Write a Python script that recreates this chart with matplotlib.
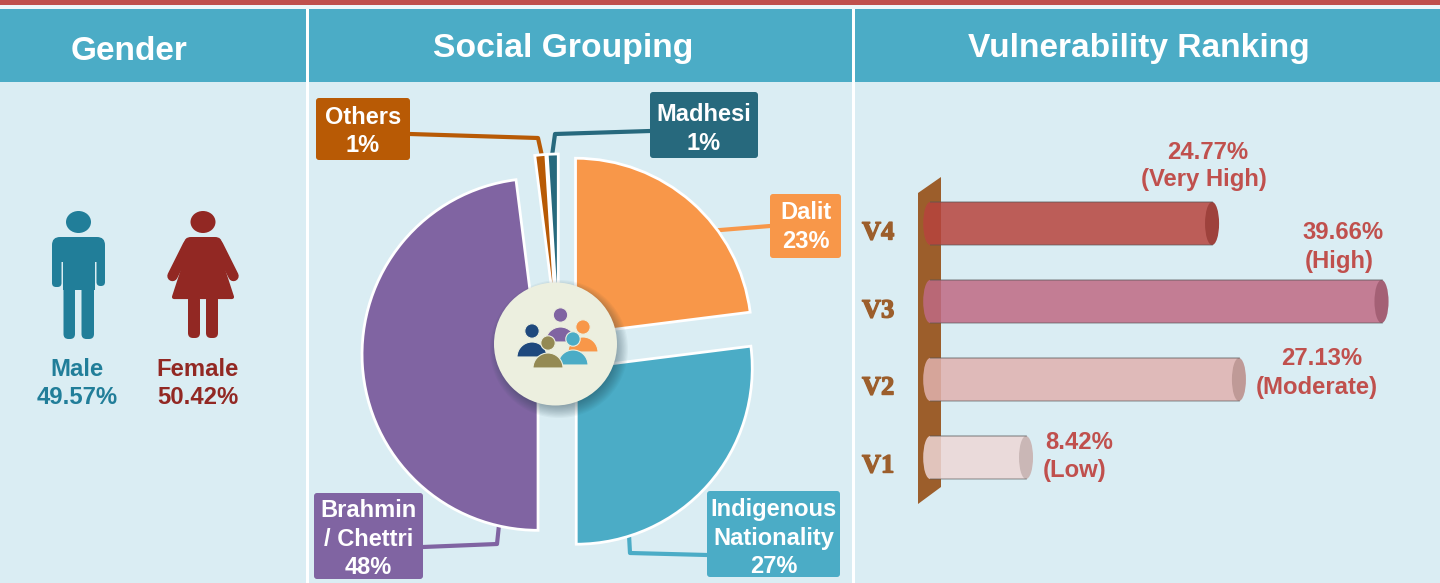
import matplotlib
matplotlib.use("Agg")
import matplotlib.pyplot as plt
import matplotlib.patheffects as pe
from matplotlib.patches import Rectangle, Circle, Wedge, Ellipse, Polygon, FancyBboxPatch

plt.rcParams['font.family'] = ['Liberation Sans', 'DejaVu Sans']

# data
gender_labels = ["Male", "Female"]
gender_values = [49.57, 50.42]
social_labels = ["Dalit", "Indigenous\nNationality", "Brahmin\n/ Chettri", "Others", "Madhesi"]
social_values = [23, 27, 48, 1, 1]
social_colors = ["#F89749", "#4BACC6", "#8064A2", "#B85A05", "#27697D"]
social_explode = [25, 23, 21, 23, 23]
vuln_labels = ["V1", "V2", "V3", "V4"]
vuln_values = [8.42, 27.13, 39.66, 24.77]
vuln_names = ["Low", "Moderate", "High", "Very High"]
vuln_colors = ["#EED7D6", "#E1B2AF", "#BF6A84", "#B7443D"]

BG = "#DAEDF3"
HEAD = "#4BACC6"
RED = "#C0504D"
BROWN = "#9C5E2B"
BLUE = "#217E99"
DARKRED = "#922823"

fig = plt.figure(figsize=(14.4, 5.83), dpi=100, facecolor=BG)

# axes in picture pixels, y goes down
ax = fig.add_axes([0, 0, 1, 1])
ax.set_xlim(0, 1440)
ax.set_ylim(583, 0)
ax.axis('off')

ax.add_patch(Rectangle((0, 0), 1440, 4.5, color=RED, lw=0))
ax.add_patch(Rectangle((0, 4.5), 1440, 4.5, color="#EEF7FA", lw=0))
ax.add_patch(Rectangle((0, 9), 1440, 73, color=HEAD, lw=0))
for x in [306, 852]:
    ax.add_patch(Rectangle((x, 9), 3, 574, color="white", lw=0, zorder=2))

ax.text(129, 51.5, "Gender", color="white", fontsize=24, fontweight="bold", ha="center", va="center")
ax.text(563.5, 49, "Social Grouping", color="white", fontsize=24.2, fontweight="bold", ha="center", va="center")
ax.text(1138.5, 49, "Vulnerability Ranking", color="white", fontsize=24.1, fontweight="bold", ha="center", va="center")


def rbox(x0, y0, x1, y1, color, r=3):
    ax.add_patch(FancyBboxPatch((x0, y0), x1 - x0, y1 - y0, boxstyle="round,pad=0,rounding_size=%s" % r,
                                fc=color, ec="none", zorder=4))


def stick(xs, ys, color, lw):
    ax.plot(xs, ys, color=color, lw=lw, solid_capstyle="round", solid_joinstyle="round")


# male figure
ax.add_patch(Ellipse((78.5, 222), 25, 22, color=BLUE, lw=0))
rbox(52, 237, 105, 262, BLUE, 8)
ax.add_patch(Rectangle((63, 245), 32, 45, color=BLUE, lw=0, zorder=4))
rbox(52, 250, 61.5, 287, BLUE, 4)
rbox(96.5, 250, 105, 286, BLUE, 4)
rbox(63.5, 280, 75, 339, BLUE, 5)
rbox(81.5, 280, 94, 339, BLUE, 5)

# female figure
ax.add_patch(Ellipse((203, 222), 25, 22, color=DARKRED, lw=0))
ax.add_patch(Polygon([(192, 242), (214, 242), (232, 297), (174, 297)], closed=True, fc=DARKRED, ec=DARKRED,
                     lw=3, joinstyle="round", zorder=4))
stick([188, 172.5], [245, 276], DARKRED, 7.5)
stick([218, 233.5], [245, 276], DARKRED, 7.5)
rbox(188, 295, 200, 338, DARKRED, 5)
rbox(206, 295, 218, 338, DARKRED, 5)
rbox(184, 237, 222, 252, DARKRED, 7)

gender_x = [77, 197.5]
gender_colors = [BLUE, DARKRED]
for i in range(2):
    ax.text(gender_x[i], 369.5, gender_labels[i], color=gender_colors[i], fontsize=17.2, fontweight="bold",
            ha="center", va="center")
    ax.text(gender_x[i], 398, "%.2f%%" % gender_values[i], color=gender_colors[i], fontsize=17.2,
            fontweight="bold", ha="center", va="center")

# callout lines go under the pie
stick([410, 538, 542], [134, 138, 156], social_colors[3], 3)
stick([650, 555, 552], [131, 134, 156], social_colors[4], 3)
stick([770, 708], [226, 231], social_colors[0], 3)
stick([707, 630, 629], [555, 553, 535], social_colors[1], 3)
stick([423, 497, 499], [547, 544, 525], social_colors[2], 3)

# pie, y goes up here
ax_pie = fig.add_axes([0, 0, 1, 1])
ax_pie.patch.set_alpha(0)
ax_pie.pie(social_values, explode=social_explode, colors=social_colors, startangle=90, counterclock=False,
           radius=176, center=(559, 583 - 353), wedgeprops=dict(edgecolor="white", linewidth=2))
ax_pie.set_xlim(0, 1440)
ax_pie.set_ylim(0, 583)
ax_pie.set_aspect('auto')
ax_pie.axis('off')

# top layer for centre circle and boxes
top = fig.add_axes([0, 0, 1, 1])
top.patch.set_alpha(0)
top.set_xlim(0, 1440)
top.set_ylim(583, 0)
top.axis('off')

for k in range(12):
    top.add_patch(Circle((559, 349), 69 - k * 1.2, color="#1B3A44", alpha=0.045, lw=0))
top.add_patch(Circle((555.5, 344), 61.5, color="#ECEFDF", lw=0))

# people in the circle: back to front
people = [(560.5, 315, 342, "#8064A2"), (583, 327, 352, "#F89749"), (532, 331, 357, "#1F497D"),
          (573, 339, 365, "#4BACC6"), (548, 343, 368, "#948A54")]
for px, hy, by, col in people:
    top.add_patch(Wedge((px, by), 15, 180, 360, fc=col, ec="#ECEFDF", lw=0.8))
    top.add_patch(Circle((px, hy), 7.2, fc=col, ec="#ECEFDF", lw=0.8))

boxes = [(770, 194, 841, 258), (707, 491, 840, 577), (314, 493, 423, 579), (316, 98, 410, 160), (650, 92, 758, 158)]
box_dy = [1, 4, 3, 2.5, 4]
box_text = ["%s\n%d%%" % (social_labels[i], social_values[i]) for i in range(5)]
for i, (x0, y0, x1, y1) in enumerate(boxes):
    top.add_patch(FancyBboxPatch((x0, y0), x1 - x0, y1 - y0, boxstyle="round,pad=0,rounding_size=3",
                                 fc=social_colors[i], ec="none"))
    top.text((x0 + x1) / 2, (y0 + y1) / 2 + box_dy[i], box_text[i], color="white", fontsize=17, fontweight="bold",
             ha="center", va="center", linespacing=1.3)

# plank behind the bars
top.add_patch(Polygon([(918, 193), (941, 177), (941, 487), (918, 504)], closed=True, color=BROWN, lw=0))
label_y = [466, 388, 311, 233]
for i in range(4):
    top.text(862, label_y[i], vuln_labels[i], color=BROWN, fontsize=19, fontweight="bold",
             family="Liberation Serif", ha="left", va="center",
             path_effects=[pe.withStroke(linewidth=1.0, foreground=BROWN)])

# bars: 11.38 px per percent, starting at x=930.2
ax_bar = fig.add_axes([930.2 / 1440, (583 - 496.5) / 583, 500.7 / 1440, 312 / 583])
ax_bar.patch.set_alpha(0)
ax_bar.set_xlim(0, 44)
ax_bar.set_ylim(-0.5, 3.5)
ax_bar.axis('off')
bar_h = 43 / 78
cap_w = 14 / 11.38
ypos = list(range(4))
ax_bar.barh(ypos, vuln_values, height=bar_h, color=vuln_colors, alpha=0.85, lw=0)
for i, v in enumerate(vuln_values):
    # only the left half of the near cap, so it does not double up with the bar
    left = Ellipse((0, i), cap_w, bar_h, fc=vuln_colors[i], alpha=0.85, lw=0, clip_on=True)
    ax_bar.add_patch(left)
    left.set_clip_path(Rectangle((-2, i - 1), 2, 2, transform=ax_bar.transData))
    ax_bar.add_patch(Ellipse((v, i), cap_w, bar_h, fc=vuln_colors[i], lw=0, clip_on=False))
    ax_bar.add_patch(Ellipse((v, i), cap_w, bar_h, fc="#3A3A3A", alpha=0.2, lw=0, clip_on=False))
    ax_bar.plot([0, v], [i + bar_h / 2, i + bar_h / 2], color="#555555", alpha=0.45, lw=1.2)
    ax_bar.plot([0, v], [i - bar_h / 2, i - bar_h / 2], color="#555555", alpha=0.4, lw=1.2)

# value labels
val_pos = [(1079, 442.5, 1075, 470), (1322, 358.5, 1317, 387.5), (1343, 232.5, 1339, 261.5), (1207.5, 152.5, 1203.5, 179.5)]
for i, (x1, y1, x2, y2) in enumerate(val_pos):
    top.text(x1, y1, "%.2f%%" % vuln_values[i], color=RED, fontsize=17.2, fontweight="bold", ha="center", va="center")
    top.text(x2, y2, "(%s)" % vuln_names[i], color=RED, fontsize=17.2, fontweight="bold", ha="center", va="center")

fig.savefig("out.png", dpi=100, facecolor=BG)
